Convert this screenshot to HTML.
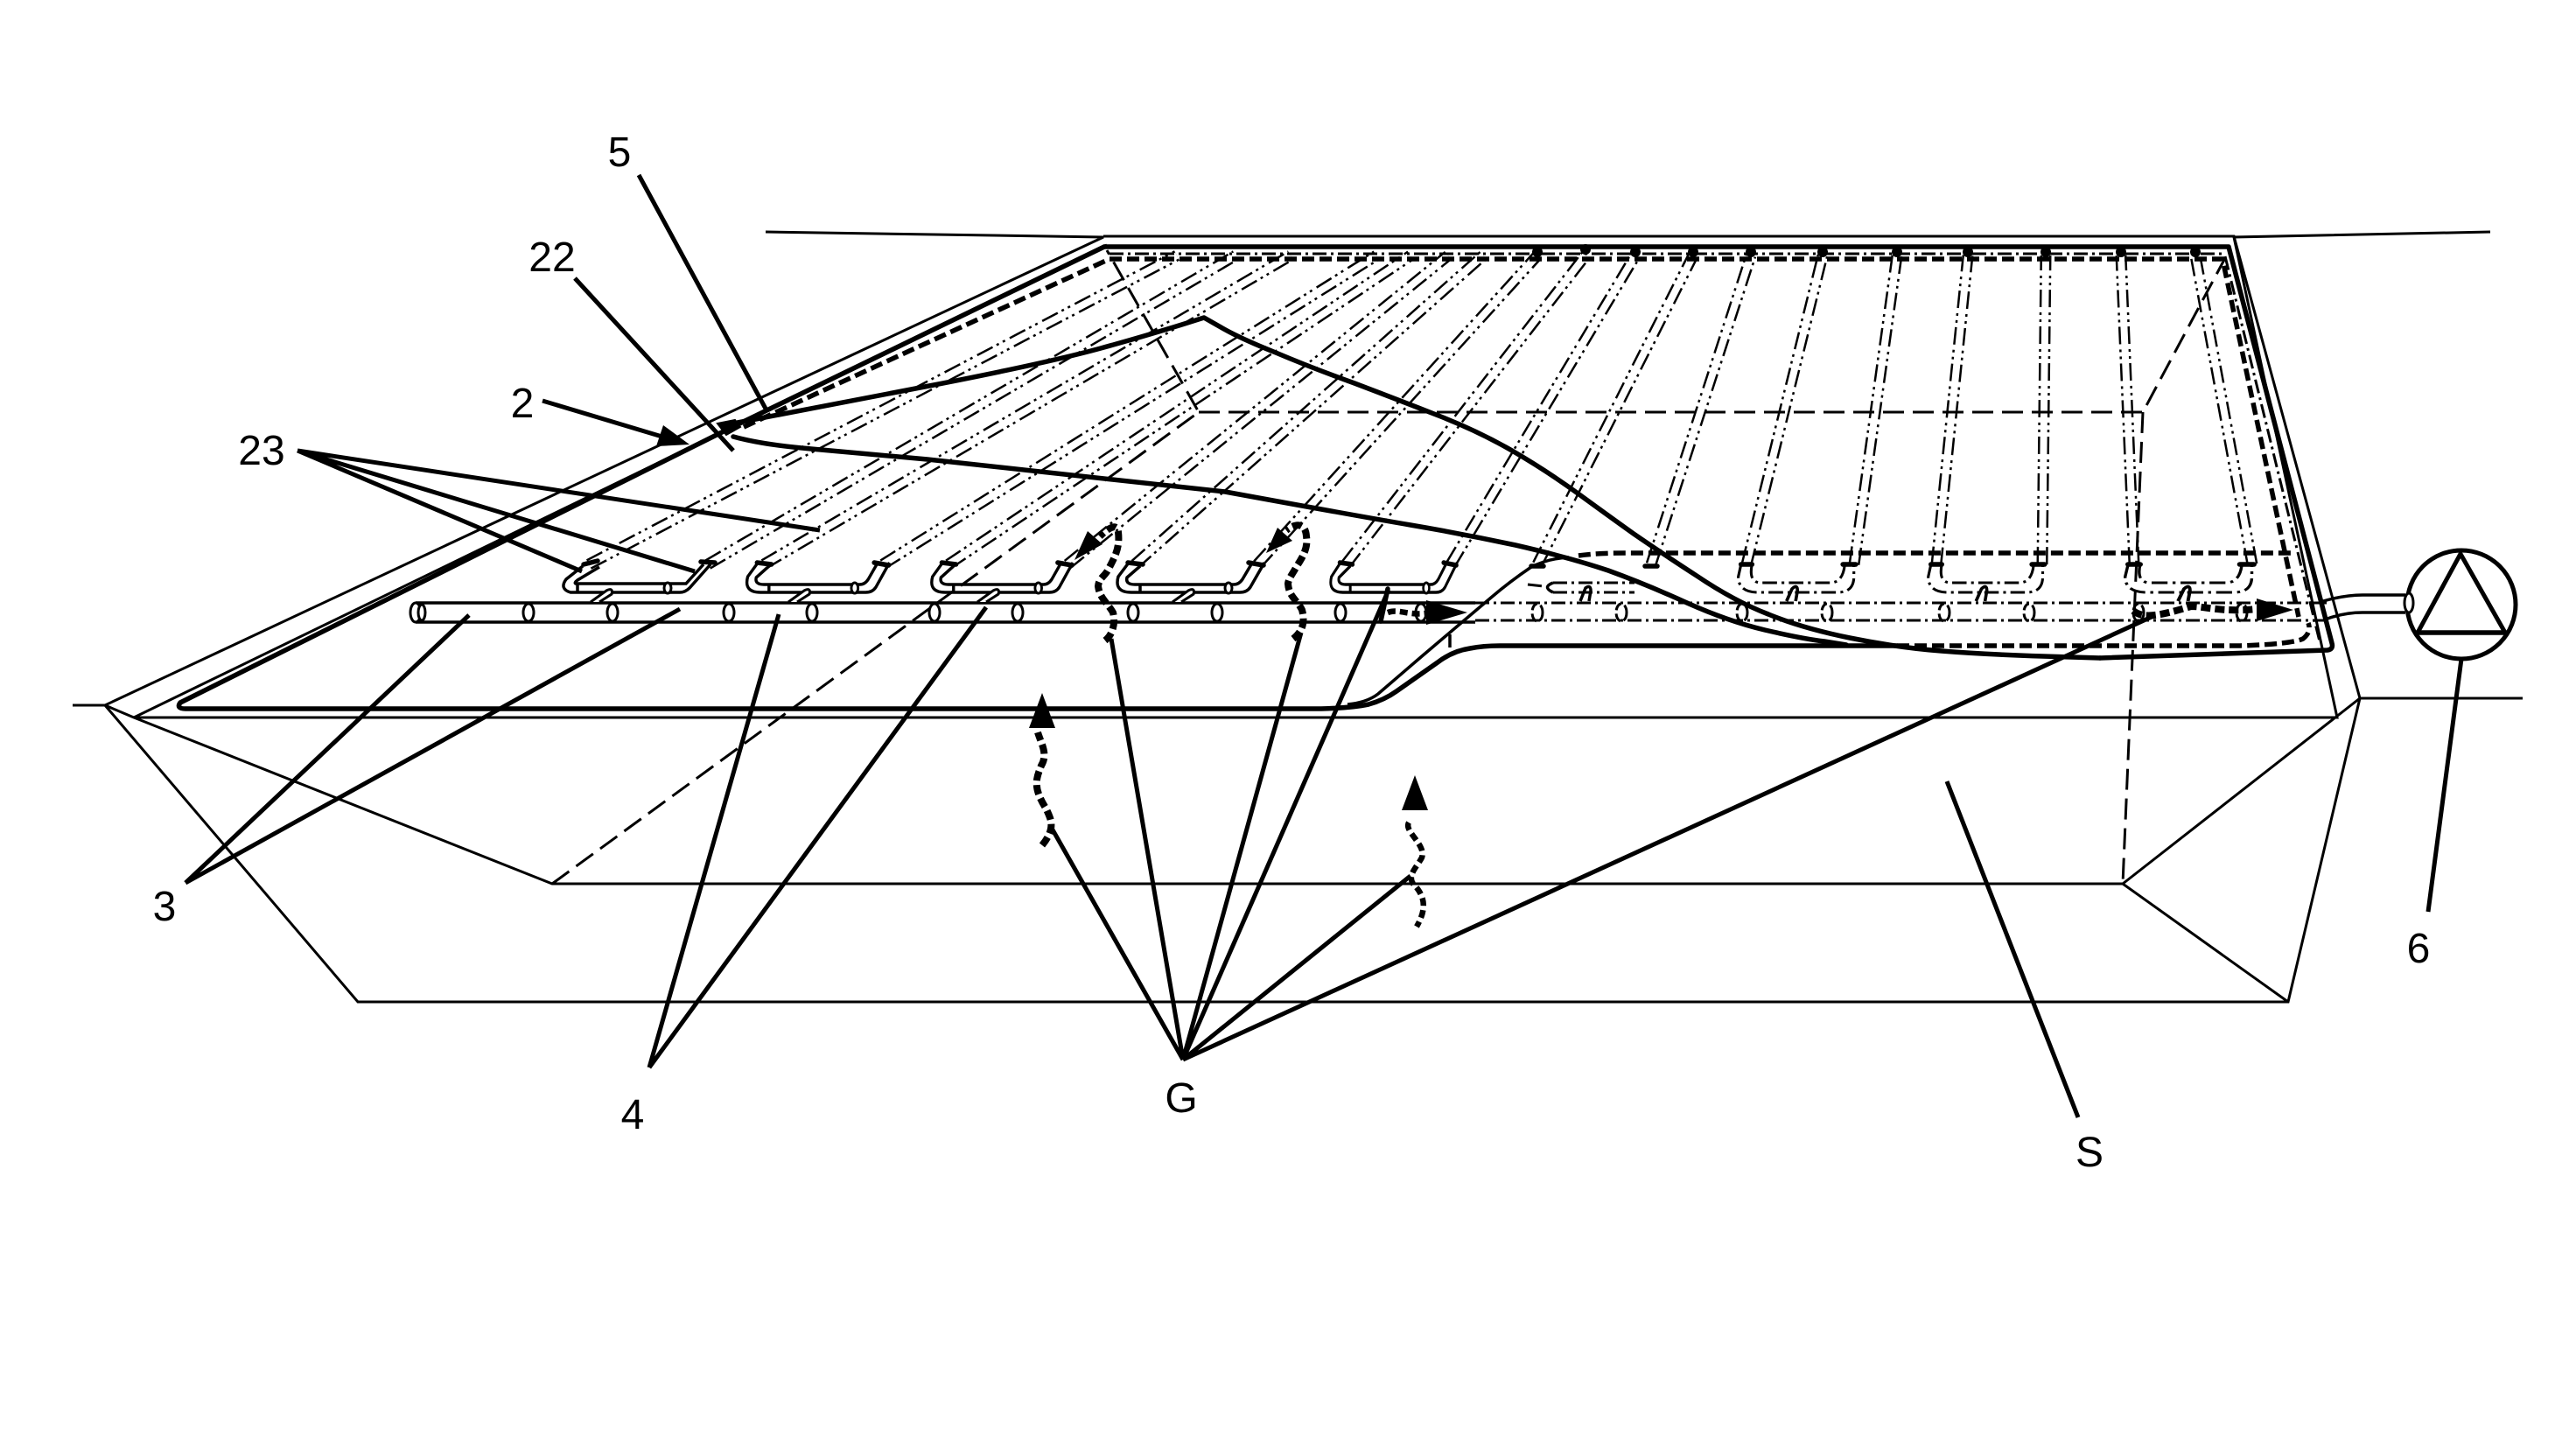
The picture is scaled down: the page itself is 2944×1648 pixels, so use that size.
<!DOCTYPE html>
<html><head><meta charset="utf-8"><style>
html,body{margin:0;padding:0;background:#fff;width:2944px;height:1648px;overflow:hidden}
svg{display:block}
text{font-family:"Liberation Sans",sans-serif;font-size:48px;fill:#000;text-anchor:middle}
.t{fill:none;stroke:#000;stroke-width:3}
.m{fill:none;stroke:#000;stroke-width:3.5}
.k{fill:none;stroke:#000;stroke-width:5.5;stroke-linejoin:round;stroke-linecap:round}
.l{fill:none;stroke:#000;stroke-width:5}
.d{fill:none;stroke:#000;stroke-width:3;stroke-dasharray:24 10}
.dd{fill:none;stroke:#000;stroke-width:5.5;stroke-dasharray:14 6}
.w{fill:none;stroke:#000;stroke-width:8;stroke-dasharray:11 5;stroke-linejoin:round}
.w2{fill:none;stroke:#000;stroke-width:6.5;stroke-dasharray:9 5;stroke-linejoin:round}
.dc{fill:none;stroke:#000;stroke-width:3;stroke-dasharray:16 5 3 5}
.e{fill:#fff;stroke:#000;stroke-width:3}
</style></head><body>
<svg width="2944" height="1648" viewBox="0 0 2944 1648" xmlns="http://www.w3.org/2000/svg">
<defs>
<path id="legs" d="M673 645L1345 292M809 645L1412 292M873 645L1475 292M1009 645L1573 292M1084 645L1612 292M1220 645L1655 292M1297 645L1695 292M1437 645L1757 292M1538 645L1812 292M1658 645L1869 292M1757 645L1935 292M1887 645L2001 292M1996 645L2083 292M2119 645L2168 292M2213 645L2249 292M2334 645L2338 292M2439 645L2424 292M2574 645L2509 292"/>
<g id="loop1">
<path class="m" fill="#fff" d="M-7 2L-26 17Q-34 28-21 32L104 32Q110 32 115 27L139 0M12 3L-13 18Q-17 21-15 22L111 22L131 0"/>
<ellipse class="e" cx="90" cy="27" rx="4" ry="6"/>
<path class="m" d="M-13 22V32"/>
<path class="k" d="M-6 0L10 -4M128 -3L144 -2"/>
</g>
<g id="loop">
<path class="m" d="M-7 -2L-19 14Q-24 32-4 32H120Q128 32 132 26L148 -2M6 2L-9 15Q-11 23 0 23H113Q119 23 123 17L133 0"/>
<ellipse class="e" cx="107" cy="27" rx="4" ry="6"/>
<path class="m" d="M6 23V32"/>
<path class="k" d="M-8 -2L9 0M130 -2L147 1"/>
</g>
<path id="stem" class="e" d="M0 43L18 30Q26 26 24 34L10 43"/>
<g id="loopd">
<path class="dc" d="M-6 0L-9 14Q-9 32 13 32L100 32Q118 32 118 14L118 0M6 0Q2 21 16 21L92 21Q106 21 108 0"/>
<path class="k" d="M-6 0H6M106 0H120"/>
<path class="m" d="M44 42L50 28Q56 22 56 30L54 42"/>
</g>
</defs>

<!-- pit and ground -->
<path class="t" d="M83 806H120L1261 271L875 265M120 806L409 1145H2615L2697 798H2883"/>
<path class="t" d="M120 806L153 820H2671L2553 271L2846 265M153 820L631 1010H2426L2615 1145M2426 1010L2697 798"/>
<path class="t" d="M153 820L1265 280"/>
<path class="t" d="M1261 270H2553L2697 798"/>

<!-- tube legs -->
<use href="#legs" fill="none" stroke="#000" stroke-width="13" stroke-dasharray="20 5 3 5 3 6"/>
<use href="#legs" fill="none" stroke="#fff" stroke-width="8"/>

<!-- hidden dashes -->
<path class="d" d="M631 1010L1370 471L1265 286M1370 471H2449L2543 295M2449 471L2426 1010"/>

<!-- sheet thick dashes -->
<path class="dd" d="M1804 635Q1825 632 1860 632H2618"/>
<path class="dd" d="M850 488L1268 296H2540L2627 705"/>
<path class="dd" d="M2168 738H2560Q2620 736 2632 730Q2642 722 2638 712"/>
<path class="dc" d="M1268 290H2540"/>
<path class="dc" d="M2543 293L2651 733"/>

<!-- main pipe -->
<path class="m" d="M475 689H1686M475 711H1686"/>
<ellipse class="e" cx="475" cy="700" rx="6" ry="11"/>
<ellipse class="e" cx="482" cy="700" rx="4" ry="9"/>
<g class="e">
<ellipse cx="604" cy="700" rx="6" ry="10"/><ellipse cx="700" cy="700" rx="6" ry="10"/>
<ellipse cx="833" cy="700" rx="6" ry="10"/><ellipse cx="928" cy="700" rx="6" ry="10"/>
<ellipse cx="1068" cy="700" rx="6" ry="10"/><ellipse cx="1163" cy="700" rx="6" ry="10"/>
<ellipse cx="1295" cy="700" rx="6" ry="10"/><ellipse cx="1391" cy="700" rx="6" ry="10"/>
<ellipse cx="1532" cy="700" rx="6" ry="10"/><ellipse cx="1624" cy="700" rx="6" ry="10"/>
</g>
<path class="dc" d="M1686 689H2660M1686 709H2660"/>
<g fill="none" stroke="#000" stroke-width="3" stroke-dasharray="10 4">
<ellipse cx="1757" cy="700" rx="6" ry="10"/><ellipse cx="1853" cy="700" rx="6" ry="10"/>
<ellipse cx="1991" cy="700" rx="6" ry="10"/><ellipse cx="2088" cy="700" rx="6" ry="10"/>
<ellipse cx="2222" cy="700" rx="6" ry="10"/><ellipse cx="2319" cy="700" rx="6" ry="10"/>
<ellipse cx="2444" cy="700" rx="6" ry="10"/><ellipse cx="2562" cy="700" rx="6" ry="10"/>
</g>

<!-- loops -->
<use href="#loop1" transform="translate(673 645)"/>
<use href="#loop" transform="translate(873 645) scale(.97 1)"/>
<use href="#loop" transform="translate(1084 645) scale(.96 1)"/>
<use href="#loop" transform="translate(1297 645)"/>
<use href="#loop" transform="translate(1538 645) scale(.86 1)"/>
<use href="#stem" transform="translate(675 645)"/>
<use href="#stem" transform="translate(901 645)"/>
<use href="#stem" transform="translate(1117 645)"/>
<use href="#stem" transform="translate(1340 645)"/>
<path class="k" d="M1750 647H1764M1880 647H1894"/>
<path class="dc" d="M1746 668L1764 670M1775 666H1868M1775 677H1868"/>
<path class="m" d="M1775 666Q1762 671 1775 677M1806 687L1812 672Q1818 668 1818 675L1816 687"/>
<use href="#loopd" transform="translate(1996 645) scale(1.04 1)"/>
<use href="#loopd" transform="translate(2213 645) scale(1.03 1)"/>
<use href="#loopd" transform="translate(2439 645) scale(1.14 1)"/>

<!-- top dots -->
<g fill="#000">
<circle cx="1757" cy="288" r="6"/><circle cx="1812" cy="285" r="6"/><circle cx="1869" cy="288" r="6"/>
<circle cx="1935" cy="288" r="6"/><circle cx="2001" cy="288" r="6"/><circle cx="2083" cy="288" r="6"/>
<circle cx="2168" cy="288" r="6"/><circle cx="2249" cy="288" r="6"/><circle cx="2338" cy="288" r="6"/>
<circle cx="2424" cy="288" r="6"/><circle cx="2509" cy="288" r="6"/>
</g>

<!-- sheet outline -->
<path class="k" d="M1262 282L833 490L206 803Q201 810 212 810H1510Q1545 809 1564 805Q1582 800 1596 790L1643 757Q1660 744 1680 741Q1695 738 1714 738H2168"/>
<path class="k" d="M1262 282H2547L2665 735Q2667 742 2660 743L2400 752"/>
<path class="k" d="M843 483L1062 441Q1196 415 1258 398Q1320 381 1376 363L1397 375Q1418 387 1458 403Q1498 420 1548 438Q1598 457 1644 475Q1690 493 1728 515Q1766 537 1802 563Q1839 590 1867 610Q1896 630 1939 658Q1982 687 2021 702Q2060 718 2114 729Q2168 740 2219 744Q2270 748 2335 750L2400 752"/>
<path class="k" d="M838 499Q870 508 927 513L1060 525L1400 562Q1553 590 1612 600Q1671 610 1732 623Q1793 637 1838 652Q1882 668 1928 689Q1975 710 2017 720Q2060 730 2085 733L2110 737"/>
<path class="m" stroke-width="4" d="M1540 805Q1562 803 1575 793L1625 750L1704 683Q1725 665 1750 648Q1770 638 1793 637"/>
<path class="m" d="M1657 725V740"/>
<path d="M820 484L840 480L846 488L830 497Z" fill="#000" stroke="#000" stroke-width="2"/>

<!-- gas arrows -->
<path class="w" d="M1191 966C1208 945 1200 935 1196 925C1180 900 1184 890 1190 875C1198 862 1190 850 1186 837"/>
<polygon points="1191,792 1176,832 1206,832"/>
<path class="w" d="M1263 732C1272 725 1275 712 1272 700C1265 688 1257 684 1255 670C1256 660 1262 660 1267 650C1275 635 1280 625 1278 608C1277 598 1268 602 1257 613"/>
<polygon points="1228,640 1243,607 1260,622"/>
<path class="w" d="M1478 730C1488 722 1492 712 1488 697C1482 685 1473 682 1472 667C1473 660 1478 655 1482 647C1490 635 1495 625 1493 613C1492 598 1482 597 1470 606"/>
<polygon points="1447,632 1460,603 1477,618"/>
<path class="k" stroke-width="7" d="M1586 673L1578 710"/>
<path class="w2" d="M1586 700C1600 695 1610 705 1635 700"/>
<polygon points="1677,700 1630,686 1630,714"/>
<path class="w2" d="M1610 940C1604 950 1630 965 1625 980C1620 990 1608 1000 1615 1010C1630 1025 1630 1040 1619 1059"/>
<polygon points="1617,886 1602,926 1632,926"/>
<path class="w" d="M2438 698C2450 708 2470 703 2504 693C2520 693 2540 700 2580 696"/>
<polygon points="2621,697 2579,684 2579,710"/>

<!-- pump -->
<path class="m" d="M2655 687Q2680 680 2700 680H2749M2660 707Q2680 700 2700 700H2749"/>
<circle cx="2813" cy="691" r="62" fill="none" stroke="#000" stroke-width="5"/>
<ellipse class="e" cx="2753" cy="689" rx="5" ry="11"/>
<path class="l" d="M2812 633L2763 723H2863ZM2763 723H2863"/>
<path class="k" d="M2763 723H2863"/>

<!-- leaders -->
<path class="l" d="M730 200L875 467M657 318L838 515M212 1009L536 703M212 1009L777 696M742 1220L890 702M742 1220L1127 694"/>
<path class="l" d="M340 515L665 653M340 515L794 653M340 515L937 606"/>
<path class="l" d="M1352 1211L1200 943M1352 1211L1270 730M1352 1211L1487 723M1352 1211L1587 674M1352 1211L1612 1001M1352 1211L2459 705"/>
<path class="l" d="M2225 893L2375 1277M2813 753L2775 1042"/>
<path class="l" d="M620 458L760 500"/>
<polygon points="788,508 750,510 758,486"/>

<!-- labels -->
<text x="708" y="190">5</text>
<text x="631" y="310">22</text>
<text x="597" y="477">2</text>
<text x="299" y="531">23</text>
<text x="188" y="1052">3</text>
<text x="723" y="1290">4</text>
<text x="1350" y="1271">G</text>
<text x="2388" y="1333">S</text>
<text x="2764" y="1100">6</text>
</svg>
</body></html>
